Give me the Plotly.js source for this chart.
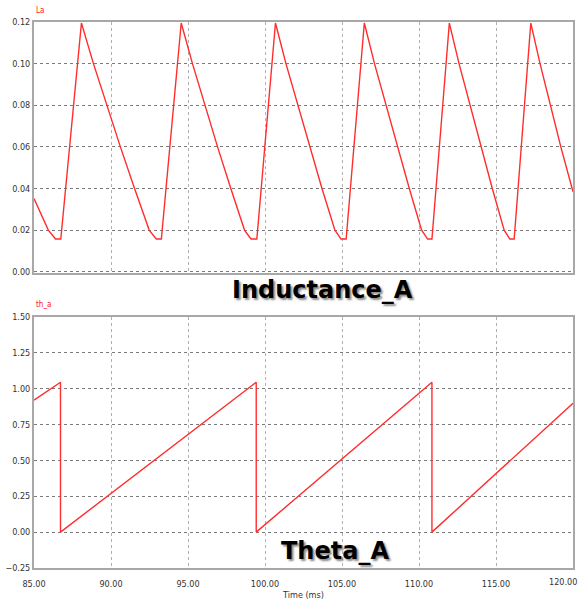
<!DOCTYPE html>
<html>
<head>
<meta charset="utf-8">
<script src="https://cdn.plot.ly/plotly-3.0.1.min.js"></script>
<style>
  html, body { margin: 0; padding: 0; background: #ffffff; }
  #chart { width: 580px; height: 603px; }
</style>
</head>
<body>
<div id="chart"></div>
<script>
// ---- Data ----
// Inductance_A (La) vs time (ms)
const timeL = [85, 85.93, 86.28, 86.40, 86.74,
               88.08, 88.86, 89.73, 90.61, 91.53, 92.48, 92.82, 92.94, 93.27,
               94.56, 95.29, 96.10, 96.92, 97.78, 98.67, 98.98, 99.10, 99.47,
               100.68, 101.36, 102.13, 102.90, 103.70, 104.54, 104.83, 104.94, 105.27,
               106.45, 107.11, 107.85, 108.59, 109.37, 110.17, 110.45, 110.56, 110.84,
               111.97, 112.60, 113.31, 114.01, 114.76, 115.53, 115.80, 115.90, 116.18,
               117.26, 117.86, 118.54, 119.21, 120];
const La = [0.0352, 0.020, 0.0168, 0.0157, 0.0157,
            0.1195, 0.100, 0.080, 0.060, 0.040, 0.020, 0.0168, 0.0157, 0.0157,
            0.1195, 0.100, 0.080, 0.060, 0.040, 0.020, 0.0168, 0.0157, 0.0157,
            0.1195, 0.100, 0.080, 0.060, 0.040, 0.020, 0.0168, 0.0157, 0.0157,
            0.1195, 0.100, 0.080, 0.060, 0.040, 0.020, 0.0168, 0.0157, 0.0157,
            0.1195, 0.100, 0.080, 0.060, 0.040, 0.020, 0.0168, 0.0157, 0.0157,
            0.1195, 0.100, 0.080, 0.060, 0.0384];

// Theta_A (th_a) vs time (ms)
const timeTh = [85, 86.72, 86.72, 99.43, 99.43, 110.84, 110.84, 120];
const thA = [0.92, 1.044, 0, 1.044, 0, 1.044, 0, 0.898];

// Tick labels
const xTicks = [85, 90, 95, 100, 105, 110, 115, 120];
const xTickText = ['85.00', '90.00', '95.00', '100.00', '105.00', '110.00', '115.00', ''];
const lastXLabel = '120.00';
const yTicksL = [0, 0.02, 0.04, 0.06, 0.08, 0.10, 0.12];
const yTicksTh = [-0.25, 0, 0.25, 0.5, 0.75, 1.0, 1.25, 1.5];

const lineColor = '#ff2d2d';
const fontFam = 'Liberation Sans Narrow, DejaVu Sans Condensed, Arial, sans-serif';
const tickFont = { family: fontFam, size: 9, color: '#333333' };

const traces = [
  { x: timeL, y: La, type: 'scatter', mode: 'lines', xaxis: 'x', yaxis: 'y',
    line: { color: lineColor, width: 1.4 }, hoverinfo: 'skip' },
  { x: timeTh, y: thA, type: 'scatter', mode: 'lines', xaxis: 'x2', yaxis: 'y2',
    line: { color: lineColor, width: 1.4 }, hoverinfo: 'skip' }
];

const frame = { showline: true, mirror: true, linecolor: '#a8a8a8', linewidth: 2, zeroline: false };
const xCommon = Object.assign({}, frame, {
  range: [85, 120], tickmode: 'array', tickvals: xTicks, ticktext: xTickText,
  showgrid: true, gridcolor: '#b0b0b0', griddash: '3px,3px', gridwidth: 1,
  ticks: '', tickfont: tickFont, fixedrange: true
});

const layout = {
  width: 580, height: 603,
  margin: { l: 34, r: 7, t: 21.5, b: 34.5 },
  paper_bgcolor: '#ffffff', plot_bgcolor: '#ffffff',
  showlegend: false,
  xaxis: Object.assign({}, xCommon, { anchor: 'y', showticklabels: false }),
  yaxis: Object.assign({}, frame, {
    domain: [0.54, 1], anchor: 'x', range: [-0.0007, 0.12],
    tickmode: 'array', tickvals: yTicksL, tickformat: '.2f',
    showgrid: true, gridcolor: '#7a7a7a', griddash: 'dot', gridwidth: 1,
    ticks: '', tickfont: tickFont
  }),
  xaxis2: Object.assign({}, xCommon, {
    anchor: 'y2', showticklabels: true, ticklabelstandoff: 6,
    title: { text: 'Time (ms)', font: { family: fontFam, size: 9, color: '#333333' }, standoff: 4 }
  }),
  yaxis2: Object.assign({}, frame, {
    domain: [0, 0.46], anchor: 'x2', range: [-0.25, 1.5],
    tickmode: 'array', tickvals: yTicksTh, tickformat: '.2f',
    showgrid: true, gridcolor: '#7a7a7a', griddash: 'dot', gridwidth: 1,
    ticks: '', tickfont: tickFont
  }),
  annotations: [
    { text: 'La', xref: 'paper', yref: 'paper', x: 0.0, y: 1.021, xanchor: 'left', yanchor: 'middle',
      showarrow: false, font: { family: fontFam, size: 8, color: '#ff2020' } },
    { text: 'th_a', xref: 'paper', yref: 'paper', x: 0.0, y: 0.4817, xanchor: 'left', yanchor: 'middle',
      showarrow: false, font: { family: fontFam, size: 8, color: '#ff2020' } },
    { text: lastXLabel, xref: 'paper', yref: 'paper', x: 1, y: -0.026, xanchor: 'right', yanchor: 'middle',
      xshift: 6, showarrow: false, font: tickFont },
    { text: '<b>Inductance_A</b>', xref: 'paper', yref: 'paper', x: 0.5346, y: 0.509, xanchor: 'center', yanchor: 'middle',
      showarrow: false, font: { family: 'DejaVu Sans', size: 24, color: '#000000', shadow: '2px 2px 2px #8a8a8a' } },
    { text: '<b>Theta_A</b>', xref: 'paper', yref: 'paper', x: 0.5593, y: 0.032, xanchor: 'center', yanchor: 'middle',
      showarrow: false, font: { family: 'DejaVu Sans', size: 24, color: '#000000', shadow: '2px 2px 2px #8a8a8a' } }
  ]
};

Plotly.newPlot('chart', traces, layout, { displayModeBar: false, staticPlot: true });
</script>
</body>
</html>
